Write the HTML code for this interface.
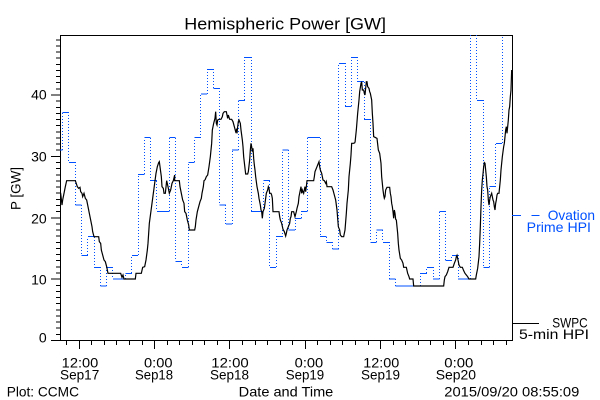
<!DOCTYPE html>
<html>
<head>
<meta charset="utf-8">
<style>
html,body{margin:0;padding:0;background:#fff;}
svg{display:block;}
text{font-family:"Liberation Sans",sans-serif;}
</style>
</head>
<body>
<svg width="600" height="400" viewBox="0 0 600 400" xmlns="http://www.w3.org/2000/svg">
<rect x="0" y="0" width="600" height="400" fill="#fff"/>
<defs>
<clipPath id="c"><rect x="60" y="35" width="452.5" height="306"/></clipPath>
</defs>

<text x="184.3" y="29.3" font-size="17" textLength="201.7" lengthAdjust="spacingAndGlyphs" fill="#000">Hemispheric Power [GW]</text>

<text transform="translate(20.5,210) rotate(-90)" x="0" y="0" font-size="14" textLength="43" lengthAdjust="spacingAndGlyphs" fill="#000">P [GW]</text>

<g font-size="14" fill="#000" text-anchor="end">
<text x="46.7" y="342.7">0</text>
<text x="46.7" y="284.3">10</text>
<text x="46.7" y="223.3">20</text>
<text x="46.7" y="161.7">30</text>
<text x="46.7" y="99.3">40</text>
</g>

<rect x="60.5" y="35.5" width="452" height="305" fill="none" stroke="#000" stroke-width="1" shape-rendering="crispEdges"/>

<path shape-rendering="crispEdges" stroke="#000" stroke-width="1" fill="none" d="
M56,334.4H60 M56,328.2H60 M56,322.1H60 M56,316H60 M56,309.8H60 M56,303.7H60 M56,297.5H60 M56,291.4H60 M56,285.3H60 M51,279.1H60
M56,273H60 M56,266.9H60 M56,260.7H60 M56,254.6H60 M56,248.4H60 M56,242.3H60 M56,236.2H60 M56,230H60 M56,223.9H60 M51,217.8H60
M56,211.6H60 M56,205.5H60 M56,199.3H60 M56,193.2H60 M56,187.1H60 M56,180.9H60 M56,174.8H60 M56,168.7H60 M56,162.5H60 M51,156.4H60
M56,150.2H60 M56,144.1H60 M56,138H60 M56,131.8H60 M56,125.7H60 M56,119.6H60 M56,113.4H60 M56,107.3H60 M56,101.1H60 M51,95H60
M56,88.9H60 M56,82.7H60 M56,76.6H60 M56,70.5H60 M56,64.3H60 M56,58.2H60 M56,52H60 M56,45.9H60 M56,39.8H60
M51,340.5H60"/>

<path shape-rendering="crispEdges" stroke="#000" stroke-width="1" fill="none" d="
M66.5,341v4 M79.5,341v8 M91.5,341v4 M104.5,341v4 M116.5,341v4 M129.5,341v4 M142.5,341v4
M154.5,341v8 M167.5,341v4 M179.5,341v4 M192.5,341v4 M204.5,341v4 M217.5,341v4
M229.5,341v8 M242.5,341v4 M255.5,341v4 M267.5,341v4 M280.5,341v4 M292.5,341v4
M305.5,341v8 M317.5,341v4 M330.5,341v4 M342.5,341v4 M355.5,341v4 M368.5,341v4
M380.5,341v8 M393.5,341v4 M405.5,341v4 M418.5,341v4 M430.5,341v4 M443.5,341v4
M455.5,341v8 M468.5,341v4 M481.5,341v4 M493.5,341v4 M506.5,341v4"/>

<g font-size="14" fill="#000">
<text x="61.7" y="367.5" textLength="36.6" lengthAdjust="spacingAndGlyphs">12:00</text>
<text x="60" y="379.5" textLength="39.3" lengthAdjust="spacingAndGlyphs">Sep17</text>
<text x="144" y="367.5" textLength="28.5" lengthAdjust="spacingAndGlyphs">0:00</text>
<text x="135" y="379.5" textLength="38" lengthAdjust="spacingAndGlyphs">Sep18</text>
<text x="211.3" y="367.5" textLength="37.4" lengthAdjust="spacingAndGlyphs">12:00</text>
<text x="210" y="379.5" textLength="39" lengthAdjust="spacingAndGlyphs">Sep18</text>
<text x="294.7" y="367.5" textLength="28.5" lengthAdjust="spacingAndGlyphs">0:00</text>
<text x="285.7" y="379.5" textLength="38.5" lengthAdjust="spacingAndGlyphs">Sep19</text>
<text x="363.3" y="367.5" textLength="36" lengthAdjust="spacingAndGlyphs">12:00</text>
<text x="361" y="379.5" textLength="39" lengthAdjust="spacingAndGlyphs">Sep19</text>
<text x="444.3" y="367.5" textLength="29" lengthAdjust="spacingAndGlyphs">0:00</text>
<text x="435.7" y="379.5" textLength="40.3" lengthAdjust="spacingAndGlyphs">Sep20</text>
</g>

<g font-size="14" fill="#000">
<text x="6.7" y="396.7" textLength="72.3" lengthAdjust="spacingAndGlyphs">Plot: CCMC</text>
<text x="238.7" y="396.7" textLength="94.6" lengthAdjust="spacingAndGlyphs">Date and Time</text>
<text x="444.3" y="396.7" textLength="135" lengthAdjust="spacingAndGlyphs">2015/09/20 08:55:09</text>
</g>

<g clip-path="url(#c)">
<path shape-rendering="crispEdges" stroke="#0050ff" stroke-width="1" fill="none" d="
M60,150H62.7 M62.7,112.3H69 M69,162.3H75.3 M75.3,205H81.5 M81.5,255.3H87.8 M87.8,236.7H94.1
M94.1,267.3H100.4 M100.4,286H106.6 M106.6,267.3H112.9 M112.9,279H125.5 M125.5,273.3H131.8
M131.8,255.3H138 M138,174.3H144.3 M144.3,137.7H150.6 M150.6,180.7H156.9 M156.9,211.3H169.4
M169.4,137.7H175.7 M175.7,261.3H182 M182,267.3H188.3 M188.3,162.3H194.5 M194.5,137.7H200.8
M200.8,94H207.1 M207.1,69.3H213.4 M213.4,88.3H219.6 M219.6,205H225.9 M225.9,224H232.2
M232.2,150H238.5 M238.5,100.3H244.8 M244.8,57.3H251 M251,211.3H263.6 M263.6,180.7H269.9
M269.9,267.3H276.2 M276.2,236.7H282.4 M282.4,150H288.7 M288.7,230H295 M295,218.3H301.3
M301.3,211.3H307.5 M307.5,137.7H320.1 M320.1,236.7H326.4 M326.4,242.3H332.7 M332.7,249H338.9
M338.9,63.3H345.2 M345.2,106.3H351.5 M351.5,57.3H357.8 M357.8,81.7H364 M364,119.3H370.3
M370.3,242.3H376.6 M376.6,230H382.9 M382.9,242.3H389.2 M389.2,279H395.4 M395.4,286H420.5
M420.5,273.3H426.8 M426.8,267.3H433.1 M433.1,279H439.4 M439.4,211.3H445.7 M445.7,260.7H451.9
M451.9,255.3H458.2 M458.2,279H470.8 M477,100.3H483.3 M483.3,267.3H489.6 M489.6,186.7H495.9
M495.9,143.3H502.2"/>
<path stroke="#0050ff" stroke-width="1" stroke-dasharray="1 2" fill="none" d="
M62.5,150V112 M68.5,112V162 M75.5,162V205 M81.5,205V255 M87.5,255V237 M94.5,237V267
M100.5,267V286 M106.5,286V267 M112.5,267V279 M125.5,279V273 M131.5,273V255
M138.5,255V174 M144.5,174V138 M150.5,138V181 M156.5,181V211 M169.5,211V138
M175.5,138V261 M181.5,261V267 M188.5,267V162 M194.5,162V138 M200.5,138V94
M207.5,94V69 M213.5,69V88 M219.5,88V205 M225.5,205V224 M232.5,224V150 M238.5,150V100
M244.5,100V57 M251.5,57V211 M263.5,211V181 M269.5,181V267 M276.5,267V237
M282.5,237V150 M288.5,150V230 M295.5,230V218 M301.5,218V211 M307.5,211V138
M320.5,138V237 M326.5,237V242 M332.5,242V249 M338.5,249V63 M345.5,63V106
M351.5,106V57 M357.5,57V82 M364.5,82V119 M370.5,119V242 M376.5,242V230
M382.5,230V242 M389.5,242V279 M395.5,279V286 M420.5,286V273 M426.5,273V267
M433.5,267V279 M439.5,279V211 M445.5,211V261 M451.5,261V255 M458.5,255V279
M470.5,279V35 M476.5,35V100 M483.5,100V267 M489.5,267V187 M495.5,187V143 M502.5,143V35"/>

<g fill="none" stroke="#000" stroke-width="1.2" stroke-linejoin="miter">
<polyline vector-effect="non-scaling-stroke" transform="translate(58,30) scale(0.333333)" points="
4,490 8,490 12,525 14,510 18,490 22,470 26,452 52,452 58,470 62,475 66,472 68,485 72,490 74,500 78,490 82,505 86,510 90,530 94,550 98,570 102,590 104,605 108,620 122,620 124,635 128,640 130,660 134,675 138,690 142,695 146,710 150,730 188,730 192,742 195,735 198,747 232,747 234,730 250,730 254,712 260,710 264,690 268,660 270,640 272,610 274,580 278,550 282,520 286,490 290,460 294,430 298,410 302,398 304,395 306,410 310,440 312,470 316,475 318,490 322,490 326,452 330,470 334,490 338,480 342,460 346,452 350,435 350,452 364,452 366,470 370,490 374,510 378,520 380,545 384,550 388,570 392,585 394,600 410,600 412,590 414,570 418,545 422,530 426,515 430,505 432,490 436,470 438,452 441,450"/>
<polyline vector-effect="non-scaling-stroke" transform="translate(205,30) scale(0.333333)" points="
0,450 4,440 8,435 12,410 16,380 20,340 22,300 26,280 30,265 32,245 34,280 36,285 38,270 42,268 48,268 52,260 54,250 58,245 64,245 68,265 70,255 74,268 80,268 84,275 88,290 92,305 94,300 96,310 98,290 100,275 102,270 106,280 108,300 110,315 112,330 114,350 116,380 120,415 122,432 128,432 130,425 134,390 136,360 138,340 140,350 142,365 144,355 146,385 148,405 150,420 152,440 154,455 156,470 160,490 162,505 166,525 168,540 170,545 172,565 174,545 178,535 180,520 184,490 188,480 190,470 192,475 194,490 198,490 200,495 202,505 204,545 222,545 224,560 226,570 230,580 234,598 238,605 242,618 244,610 246,600 250,590 254,580 256,565 258,560 260,545 266,545 270,560 274,545 276,535 280,520 282,500 284,490 286,480 288,470 290,490 292,480 296,490 300,470 302,485 304,470 306,452 326,452 328,440 330,425 332,420 336,410 338,405 340,400 342,395 344,410 346,420 350,430 352,440 354,450 358,452 362,460 364,455 366,470 380,470 384,480 388,495 392,510 396,540 398,565 400,590 404,600 406,615 410,620 416,620 420,600 424,550 426,520 430,480 432,440 436,400 438,375 440,340 446,340 450,338"/>
<polyline vector-effect="non-scaling-stroke" transform="translate(355,30) scale(0.333333)" points="
0,338 4,300 8,250 12,210 14,185 18,160 20,155 22,180 26,180 28,190 30,195 34,155 36,155 38,170 42,175 44,185 46,190 50,210 52,250 54,280 56,320 60,322 66,325 70,360 74,370 78,400 80,440 84,480 86,495 88,505 90,500 92,480 96,472 104,472 106,490 108,500 110,520 112,530 114,545 116,565 118,540 120,550 122,568 124,570 126,590 128,610 130,640 132,660 136,685 140,690 144,700 146,712 154,712 158,730 162,740 164,747 174,747 176,768 266,768 268,750 270,740 274,735 278,725 282,712 294,712 298,700 302,690 304,680 306,676 308,685 310,695 312,705 316,712 322,712 326,722 330,730 334,735 338,740 342,747 362,747 364,735 368,715 372,680 374,640 376,590 378,530 380,480 382,450 384,432 386,410 388,398 390,400 392,420 394,440 396,470 398,480 400,510 402,525 404,510 406,500 408,495 410,490 412,500 414,510 416,515 418,530 420,540 422,520 424,510 426,495 428,490 432,490 434,470 436,450 438,420 440,400 442,380 444,365 446,350 448,340 450,320 452,300 454,290 456,310 458,290 460,270 462,240 464,230 466,200 468,180 470,120"/>
</g>
</g>

<path shape-rendering="crispEdges" stroke="#0050ff" stroke-width="1" fill="none" d="M512,215.5H521 M531.7,215.5H539.7"/>
<g font-size="14" fill="#0050ff">
<text x="547.7" y="220" textLength="47.3" lengthAdjust="spacingAndGlyphs">Ovation</text>
<text x="526.7" y="232" textLength="64.3" lengthAdjust="spacingAndGlyphs">Prime HPI</text>
</g>
<path shape-rendering="crispEdges" stroke="#000" stroke-width="1" fill="none" d="M512,323.5H539"/>
<g font-size="14" fill="#000">
<text x="552.3" y="327.7" textLength="35.4" lengthAdjust="spacingAndGlyphs">SWPC</text>
<text x="519" y="339" textLength="70" lengthAdjust="spacingAndGlyphs">5-min HPI</text>
</g>
</svg>
</body>
</html>
